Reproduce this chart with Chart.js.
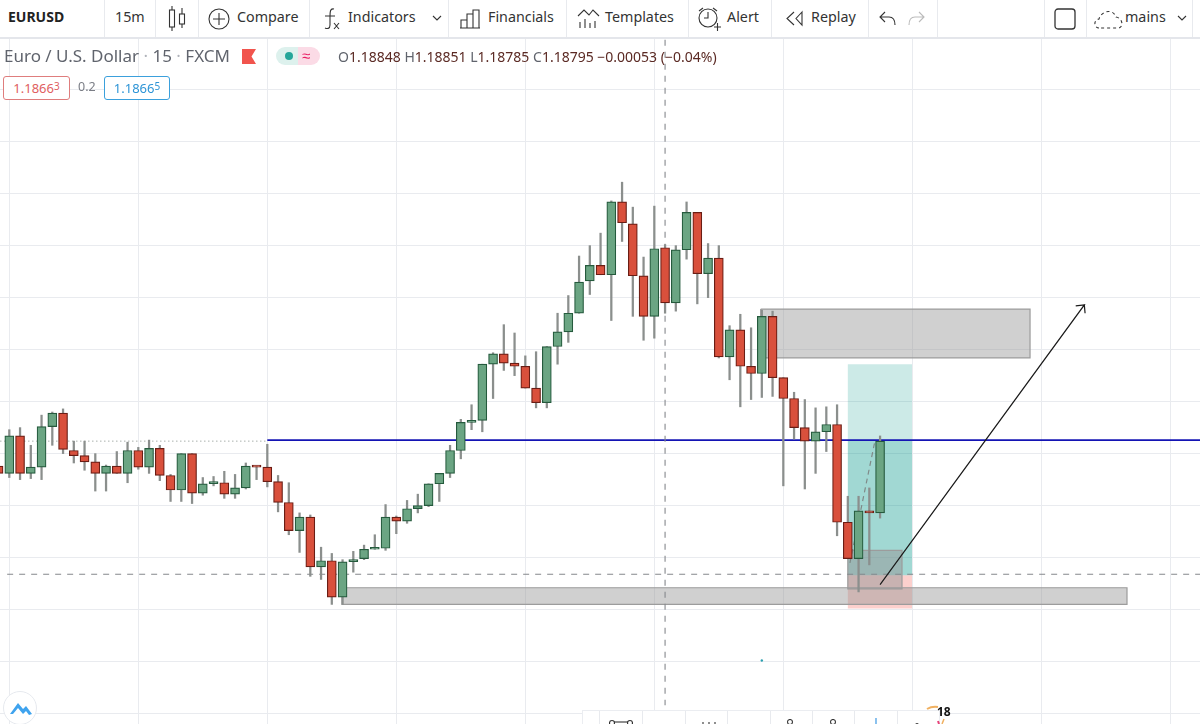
<!DOCTYPE html>
<html>
<head>
<meta charset="utf-8">
<title>EURUSD</title>
<script src="https://cdn.jsdelivr.net/npm/chart.js@4"></script>
<style>
html, body { margin: 0; padding: 0; background: #fff; overflow: hidden; }
body { width: 1200px; height: 724px; position: relative; font-family: "Noto Sans", sans-serif; color: #2a2e39; }
canvas { position: absolute; left: 0; top: 0; }
.bar { position: absolute; left: 0; top: 0; width: 1200px; height: 37px; background: #fff; border-bottom: 2px solid #e4e6eb; }
.sep { position: absolute; top: 0; width: 1px; height: 37px; background: #e8eaee; }
.t { position: absolute; white-space: nowrap; }
.tb { top: 7px; font-size: 14.3px; line-height: 20px; color: #333; }
svg.i { position: absolute; fill: none; stroke: #333; stroke-width: 1.1; }
.legend { font-size: 17px; top: 45px; line-height: 22px; color: #60646d; }
.ohlc { font-size: 14px; top: 48px; line-height: 18px; color: #5b2a24; }
.ohlc b { font-weight: 400; color: #60646d; }
.quote { position: absolute; top: 76px; height: 22px; border-radius: 3px; border: 1px solid; font-size: 13px; line-height: 22px; text-align: center; background: #fff; }
.quote sup { font-size: 10px; line-height: 0; vertical-align: 3px; }
.dock { position: absolute; left: 582px; top: 710px; width: 358px; height: 14px; background: #fff; border: 1px solid #ebedf1; border-bottom: 0; box-sizing: border-box; }
.logo { position: absolute; left: 3px; top: 691px; width: 34px; height: 34px; border-radius: 50%; background: #fff; border: 1px solid #e6e9ee; box-sizing: border-box; }
</style>
</head>
<body>
<canvas id="myChart" width="1200" height="724"></canvas>

<div class="bar">
  <div class="sep" style="left:104px"></div><div class="sep" style="left:155px"></div>
  <div class="sep" style="left:198px"></div><div class="sep" style="left:309px"></div>
  <div class="sep" style="left:448px"></div><div class="sep" style="left:566px"></div>
  <div class="sep" style="left:688px"></div><div class="sep" style="left:771px"></div>
  <div class="sep" style="left:868px"></div><div class="sep" style="left:937px"></div>
  <div class="sep" style="left:1044px"></div><div class="sep" style="left:1086px"></div>
  <div class="sep" style="left:1192px"></div>

  <div class="t tb" style="left:8px;font-weight:700;color:#222;font-size:14px">EURUSD</div>
  <div class="t tb" style="left:115px">15m</div>
  <svg class="i" style="left:168px;top:5px" width="20" height="28"><path d="M4 1v4M4 22v4M14 3v6M14 19v4"/><rect x="1.5" y="5" width="5" height="17"/><rect x="11.5" y="9" width="5" height="10"/></svg>
  <svg class="i" style="left:207px;top:7px" width="24" height="24"><circle cx="12" cy="12" r="10"/><path d="M12 6v12M6 12h12"/></svg>
  <div class="t tb" style="left:237px">Compare</div>
  <svg class="i" style="left:322px;top:6px" width="20" height="26"><path d="M12 3c-4-1-4 3-4 8v8c0 4-3 4-5 3M3 10h10M12 17l5 6M17 17l-5 6"/></svg>
  <div class="t tb" style="left:348px">Indicators</div>
  <svg class="i" style="left:432px;top:15px" width="11" height="8"><path d="M1 1l4 4 4-4"/></svg>
  <svg class="i" style="left:460px;top:8px" width="22" height="22"><path d="M1 20V12h6v8M7 20V6h6v14M13 20V2h6v18M0 20h20"/></svg>
  <div class="t tb" style="left:488px">Financials</div>
  <svg class="i" style="left:577px;top:7px" width="24" height="24"><path d="M1 9l6-6 5 5 4-5 6 6M3 21v-6M8 21v-9M13 21v-5M18 21v-7"/></svg>
  <div class="t tb" style="left:605px">Templates</div>
  <svg class="i" style="left:697px;top:6px" width="25" height="26"><circle cx="11" cy="12" r="9"/><path d="M11 6v6H7M2 5l4-3M16 2l4 3M17 21h7M20.5 17v8"/></svg>
  <div class="t tb" style="left:727px">Alert</div>
  <svg class="i" style="left:785px;top:10px" width="20" height="17"><path d="M9 2L2 8.5 9 15M17 2l-6 6.5 6 6.5z"/></svg>
  <div class="t tb" style="left:811px">Replay</div>
  <svg class="i" style="left:879px;top:11px" width="18" height="16"><path d="M6 1L1 6l5 5M1 6h9c4 0 6 3 6 8"/></svg>
  <svg class="i" style="left:908px;top:11px;stroke:#bbb" width="18" height="16"><path d="M11 1l5 5-5 5M16 6H7c-4 0-6 3-6 8"/></svg>
  <svg class="i" style="left:1054px;top:8px;stroke-width:1.3" width="23" height="22"><rect x="1" y="1" width="20" height="20" rx="3"/></svg>
  <svg class="i" style="left:1093px;top:7px" width="32" height="24"><path stroke-dasharray="3 3" d="M6 21C1 21 0 13 6 12 8 4 20 1 23 10 30 11 31 21 25 21z"/></svg>
  <div class="t tb" style="left:1125px">mains</div>
  <svg class="i" style="left:1177px;top:15px" width="11" height="8"><path d="M1 1l4 4 4-4"/></svg>
</div>

<div class="t legend" style="left:4px">Euro / U.S. Dollar <span style="color:#b0b3ba">·</span> 15 <span style="color:#b0b3ba">·</span> FXCM</div>
<svg style="position:absolute;left:242px;top:49px" width="15" height="15"><path d="M0 0H14L9.5 7.5 14 15H0z" fill="#f1544d"/></svg>
<div style="position:absolute;left:276px;top:47px;width:22px;height:18px;border-radius:9px 0 0 9px;background:#ddf1ed"></div>
<div style="position:absolute;left:298px;top:47px;width:22px;height:18px;border-radius:0 9px 9px 0;background:#fbdbe6"></div>
<div style="position:absolute;left:285px;top:52px;width:8px;height:8px;border-radius:50%;background:#26a69a"></div>
<div class="t" style="left:302px;top:44px;font-size:15px;line-height:22px;color:#e91e63">≈</div>
<div class="t ohlc" style="left:338px"><b>O</b>1.18848 <b>H</b>1.18851 <b>L</b>1.18785 <b>C</b>1.18795 −0.00053 (−0.04%)</div>

<div class="quote" style="left:3px;width:65px;border-color:#df7d7d;color:#e0605f">1.1866<sup>3</sup></div>
<div class="t" style="left:78px;top:77px;font-size:12.5px;line-height:20px;color:#7a7d85">0.2</div>
<div class="quote" style="left:104px;width:64px;border-color:#3ba0dc;color:#2d94d6">1.1866<sup>5</sup></div>

<div class="dock">
  <div class="sep" style="left:16px;top:0;height:14px"></div><div class="sep" style="left:59px;top:0;height:14px"></div>
  <div class="sep" style="left:102px;top:0;height:14px"></div><div class="sep" style="left:144px;top:0;height:14px"></div>
  <div class="sep" style="left:187px;top:0;height:14px"></div><div class="sep" style="left:229px;top:0;height:14px"></div>
  <div class="sep" style="left:271px;top:0;height:14px"></div><div class="sep" style="left:314px;top:0;height:14px"></div>
  <svg class="i" style="left:26px;top:8px" width="24" height="6"><circle cx="3" cy="4" r="2.5"/><circle cx="21" cy="4" r="2.5"/><path d="M5 3h14"/></svg>
  <svg class="i" style="left:118px;top:11px" width="16" height="3"><path d="M2 3V0M8 3V0M14 3V0"/></svg>
  <svg class="i" style="left:203px;top:8px" width="8" height="6"><circle cx="4" cy="3" r="2.5"/></svg>
  <svg class="i" style="left:246px;top:8px" width="8" height="6"><circle cx="4" cy="3" r="2.5"/></svg>
  <svg class="i" style="left:291px;top:7px;stroke:#2b8fe0" width="4" height="7"><path d="M2 0v7"/></svg>
  <svg class="i" style="left:331px;top:11px" width="6" height="3"><path d="M1 3q2-3 4 0"/></svg>
</div>
<svg style="position:absolute;left:925px;top:705px" width="24" height="19"><path d="M2 4Q7 1 13 2" fill="none" stroke="#f0b060" stroke-width="2"/><path d="M13 16l1 3" stroke="#e8447a" stroke-width="2"/><path d="M19 14l-2 5" stroke="#f0b060" stroke-width="1.5"/></svg>
<div class="t" style="left:937px;top:704px;font-size:12px;line-height:16px;font-weight:700;color:#111">18</div>
<div class="logo">
  <svg style="position:absolute;left:5px;top:8px" width="24" height="16"><path d="M1 14L9 3l5 6 3-3 6 8-3 1-3-4-3 3-5-6-5 6z" fill="#3fa3ee"/></svg>
</div>

<script>
// candle index, gridlines every 12 candles
const candleIndex = [-1,0,1,2,3,4,5,6,7,8,9,10,11,12,13,14,15,16,17,18,19,20,21,22,23,24,25,26,27,28,29,30,31,32,33,34,35,36,37,38,39,40,41,42,43,44,45,46,47,48,49,50,51,52,53,54,55,56,57,58,59,60,61,62,63,64,65,66,67,68,69,70,71,72,73,74,75,76,77,78,79,80,81];

const opens = [1.18638,1.18631,1.18667,1.18631,1.18637,1.18676,1.18689,1.18653,1.18648,1.18642,1.18631,1.18638,1.18631,1.18653,1.18637,1.18655,1.18629,1.18615,1.18650,1.18612,1.18621,1.18622,1.18611,1.18617,1.18638,1.18637,1.18623,1.18603,1.18576,1.18589,1.18541,1.18547,1.18512,1.18546,1.18549,1.18558,1.18559,1.18589,1.18585,1.18597,1.18600,1.18621,1.18631,1.18653,1.18680,1.18682,1.18736,1.18746,1.18737,1.18734,1.18713,1.18699,1.18753,1.18767,1.18785,1.18816,1.18831,1.18822,1.18892,1.18871,1.18821,1.18782,1.18848,1.18795,1.18846,1.18882,1.18823,1.18838,1.18743,1.18769,1.18734,1.18727,1.18782,1.18723,1.18703,1.18675,1.18662,1.18671,1.18678,1.18584,1.18549,1.18595,1.18593];
const highs = [1.18640,1.18673,1.18675,1.18658,1.18687,1.18690,1.18693,1.18662,1.18662,1.18650,1.18639,1.18652,1.18661,1.18656,1.18663,1.18658,1.18630,1.18650,1.18650,1.18627,1.18628,1.18633,1.18630,1.18641,1.18638,1.18659,1.18629,1.18622,1.18593,1.18591,1.18560,1.18554,1.18548,1.18556,1.18562,1.18572,1.18601,1.18590,1.18605,1.18611,1.18621,1.18631,1.18658,1.18683,1.18697,1.18736,1.18747,1.18774,1.18766,1.18744,1.18748,1.18753,1.18785,1.18802,1.18840,1.18850,1.18862,1.18893,1.18911,1.18887,1.18839,1.18888,1.18851,1.18850,1.18892,1.18882,1.18852,1.18850,1.18773,1.18784,1.18771,1.18788,1.18787,1.18723,1.18709,1.18702,1.18694,1.18695,1.18697,1.18609,1.18609,1.18617,1.18667];
const lows = [1.18625,1.18627,1.18625,1.18626,1.18625,1.18658,1.18650,1.18641,1.18634,1.18614,1.18614,1.18631,1.18622,1.18635,1.18631,1.18624,1.18604,1.18604,1.18602,1.18610,1.18619,1.18607,1.18607,1.18616,1.18625,1.18618,1.18594,1.18572,1.18555,1.18532,1.18529,1.18505,1.18505,1.18536,1.18548,1.18558,1.18557,1.18573,1.18583,1.18593,1.18599,1.18604,1.18627,1.18645,1.18673,1.18671,1.18703,1.18730,1.18725,1.18713,1.18694,1.18694,1.18736,1.18757,1.18785,1.18803,1.18822,1.18778,1.18854,1.18782,1.18759,1.18761,1.18785,1.18787,1.18837,1.18794,1.18800,1.18742,1.18721,1.18695,1.18702,1.18704,1.18705,1.18619,1.18664,1.18616,1.18631,1.18652,1.18571,1.18549,1.18517,1.18543,1.18588];
const closes = [1.18631,1.18667,1.18631,1.18637,1.18676,1.18689,1.18654,1.18648,1.18642,1.18631,1.18638,1.18631,1.18653,1.18637,1.18655,1.18629,1.18615,1.18650,1.18612,1.18621,1.18623,1.18611,1.18617,1.18638,1.18637,1.18623,1.18603,1.18576,1.18589,1.18541,1.18547,1.18512,1.18546,1.18548,1.18558,1.18559,1.18589,1.18585,1.18597,1.18600,1.18621,1.18631,1.18653,1.18680,1.18682,1.18736,1.18746,1.18737,1.18734,1.18713,1.18699,1.18753,1.18767,1.18785,1.18815,1.18831,1.18822,1.18892,1.18872,1.18821,1.18782,1.18847,1.18795,1.18846,1.18882,1.18823,1.18838,1.18743,1.18769,1.18734,1.18727,1.18782,1.18723,1.18703,1.18675,1.18662,1.18671,1.18678,1.18584,1.18549,1.18595,1.18593,1.18662];

const gridCandles = [0,12,24,36,48,60,72,84,96,108];
const gridPrices = [1.184,1.1845,1.185,1.1855,1.186,1.1865,1.187,1.1875,1.188,1.1885,1.189,1.1895,1.19,1.1905];

const bidLine = 1.18663;
const crosshairCandle = 61;
const crosshairPrice = 1.18534;

// drawings, as [first candle, last candle, top price, bottom price]
const supplyBox = [69.9, 94.95, 1.18789, 1.18742];
const demandBox = [30.95, 103.97, 1.18521, 1.18505];
const entryBox = [78, 83.04, 1.18557, 1.18520];
const targetBox = [78, 83.97, 1.18736, 1.18663];
const openProfitBox = [78, 83.97, 1.18663, 1.18533];
const stopBox = [78, 83.97, 1.18533, 1.18501];

const arrowCandles = [81, 100, 99.2, 100, 100.07];
const arrowPrices = [1.18524, 1.18793, 1.18792, 1.18793, 1.18785];
const tradeLineCandles = [78.2, 80.5];
const tradeLinePrices = [1.18545, 1.18661];
const strayMark = [{x: 70, y: 1.18451}];

const candleUp = '#6ba583';
const candleDown = '#d9503c';
const borderUp = '#255a3d';
const borderDown = '#6a1d14';

const rect = (b) => [
  {x: b[0], y: b[2]}, {x: b[1], y: b[2]}, {x: b[1], y: b[3]}, {x: b[0], y: b[3]}, {x: b[0], y: b[2]}
];
const zone = (b, fill, stroke, order) => ({
  type: 'line',
  data: rect(b),
  fill: 'shape',
  backgroundColor: fill,
  borderColor: stroke,
  borderWidth: stroke === 'transparent' ? 0 : 1.2,
  pointRadius: 0,
  tension: 0,
  order: order
});
const path = (points, color, width, dash, order) => ({
  type: 'line',
  data: points,
  fill: false,
  borderColor: color,
  borderWidth: width,
  borderDash: dash,
  pointRadius: 0,
  tension: 0,
  order: order
});

const xMin = -0.865;
const xMax = 110.76;
const yMin = 1.1839;
const yMax = 1.190862;

const datasets = [
  zone(targetBox, 'rgba(0,150,136,0.2)', 'transparent', 10),
  zone(openProfitBox, 'rgba(0,150,136,0.37)', 'transparent', 10),
  zone(stopBox, 'rgba(244,67,54,0.25)', 'transparent', 10),
  zone(supplyBox, 'rgba(150,150,150,0.45)', '#9c9c9c', 9),
  zone(demandBox, 'rgba(150,150,150,0.45)', '#9c9c9c', 9),
  zone(entryBox, 'rgba(150,150,150,0.5)', '#9c9c9c', 9),
  path([{x: xMin, y: bidLine - 0.00001}, {x: 24, y: bidLine - 0.00001}], '#a9b0ac', 1, [1.5, 2.5], 8),
  path([{x: 24, y: bidLine}, {x: xMax, y: bidLine}], '#1414b4', 1.6, [], 8),
  path([{x: -0.2, y: crosshairPrice}, {x: xMax, y: crosshairPrice}], '#85888c', 1.1, [6, 6], 7),
  path([{x: crosshairCandle, y: 1.19048}, {x: crosshairCandle, y: 1.18408}], '#85888c', 1.1, [6, 6], 7),
  path(tradeLineCandles.map((c, i) => ({x: c, y: tradeLinePrices[i]})), '#7f8a88', 1.2, [5, 4], 7),
  {
    type: 'bar',
    data: candleIndex.map((c, i) => ({x: c, y: [lows[i], highs[i]]})),
    backgroundColor: '#8b8f8d',
    barThickness: 1.6,
    grouped: false,
    order: 5
  },
  {
    type: 'bar',
    data: candleIndex.map((c, i) => ({x: c, y: [opens[i], closes[i]]})),
    backgroundColor: closes.map((c, i) => c >= opens[i] ? candleUp : candleDown),
    borderColor: closes.map((c, i) => c >= opens[i] ? borderUp : borderDown),
    borderWidth: 1.2,
    borderSkipped: false,
    barThickness: 9,
    minBarLength: 2,
    grouped: false,
    order: 4
  },
  path(arrowCandles.map((c, i) => ({x: c, y: arrowPrices[i]})), '#1a1a1a', 1.2, [], 2),
  {
    type: 'line',
    data: strayMark,
    showLine: false,
    pointRadius: 1.2,
    pointBackgroundColor: '#2a9fb0',
    pointBorderWidth: 0,
    order: 2
  }
];

const ctx = document.getElementById('myChart');
const myChart = new Chart(ctx, {
  type: 'bar',
  data: {datasets: datasets},
  options: {
    responsive: false,
    animation: false,
    layout: {padding: 0, autoPadding: false},
    plugins: {
      legend: {display: false},
      tooltip: {enabled: false}
    },
    scales: {
      x: {
        type: 'linear',
        offset: false,
        min: xMin,
        max: xMax,
        afterBuildTicks: (scale) => { scale.ticks = gridCandles.map(v => ({value: v})); },
        ticks: {display: false},
        grid: {color: '#e9ebef', lineWidth: 1, drawTicks: false, offset: false},
        border: {display: false}
      },
      y: {
        min: yMin,
        max: yMax,
        afterBuildTicks: (scale) => { scale.ticks = gridPrices.map(v => ({value: v})); },
        ticks: {display: false},
        grid: {color: '#e9ebef', lineWidth: 1, drawTicks: false},
        border: {display: false}
      }
    }
  }
});
</script>
</body>
</html>
